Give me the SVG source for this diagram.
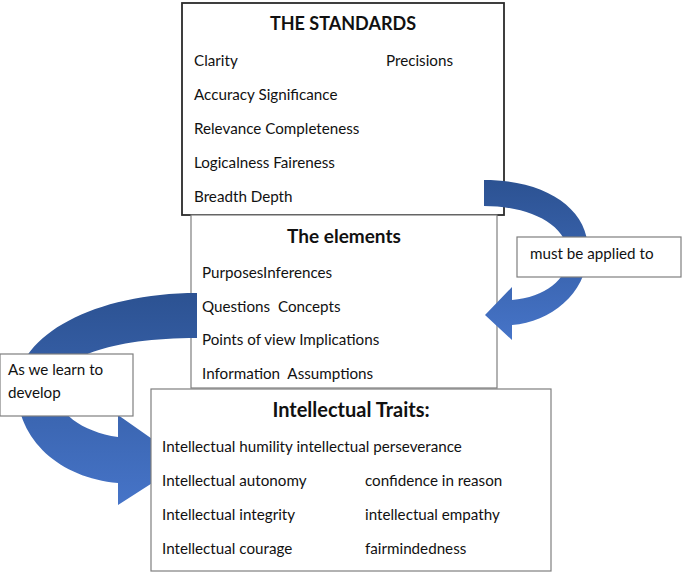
<svg xmlns="http://www.w3.org/2000/svg" width="684" height="575" viewBox="0 0 684 575">
<style>
text{font-family:Lato,"Liberation Sans",sans-serif;font-size:15.2px;fill:#111;white-space:pre}
.t{font-weight:bold;font-size:18px;text-anchor:middle}
.box{fill:#fff;stroke:#7f7f7f;stroke-width:1.2}
.dark{fill:#fff;stroke:#2b2b2b;stroke-width:1.8}
</style>
<defs>
<linearGradient id="gr" x1="0" y1="0" x2="0" y2="1">
<stop offset="0" stop-color="#2c5292"/><stop offset="1" stop-color="#4674c8"/>
</linearGradient>
<linearGradient id="gl" x1="0" y1="0" x2="0" y2="1">
<stop offset="0" stop-color="#2c5292"/><stop offset="1" stop-color="#4674c8"/>
</linearGradient>
</defs>
<g id="standards">
<rect class="dark" x="182" y="3" width="322" height="212"/>
<text class="t" x="343" y="30">THE STANDARDS</text>
<text x="194" y="66">Clarity</text>
<text x="386" y="66">Precisions</text>
<text x="194" y="100">Accuracy Significance</text>
<text x="194" y="134">Relevance Completeness</text>
<text x="194" y="168">Logicalness Faireness</text>
<text x="194" y="202">Breadth Depth</text>
</g>
<g id="elements">
<rect class="box" x="191" y="215" width="306" height="173"/>
<text class="t" x="344" y="243" style="font-size:19px">The elements</text>
<text x="202" y="278">PurposesInferences</text>
<text x="202" y="312">Questions  Concepts</text>
<text x="202" y="345">Points of view Implications</text>
<text x="202" y="379">Information  Assumptions</text>
</g>
<g id="connectors">
<path fill="url(#gr)" d="M 484 180 C 545 180 588 208 588 250 C 588 292 552 322 512 325 L 512 340 L 485 315 L 512 287 L 512 300 C 545 297 568 280 568 255 C 568 225 530 206 484 206 Z"/>
<path fill="url(#gl)" d="M 197 293 C 95 293 17 335 17 388 C 17 440 60 478 118 483 L 118 505 L 185 462 L 118 415 L 118 437 C 82 432 55 412 55 388 C 55 358 110 338 197 338 Z"/>
</g>
<g id="traits">
<rect class="box" x="151" y="389" width="400" height="182"/>
<text class="t" x="351" y="417" style="font-size:20px">Intellectual Traits:</text>
<text x="162" y="452">Intellectual humility intellectual perseverance</text>
<text x="162" y="486">Intellectual autonomy</text>
<text x="365" y="486">confidence in reason</text>
<text x="162" y="520">Intellectual integrity</text>
<text x="365" y="520">intellectual empathy</text>
<text x="162" y="554">Intellectual courage</text>
<text x="365" y="554">fairmindedness</text>
</g>
<g id="label-applied">
<rect class="box" x="517" y="237" width="164" height="40"/>
<text x="530" y="259">must be applied to</text>
</g>
<g id="label-develop">
<rect class="box" x="0" y="354" width="133" height="62"/>
<text x="8" y="375">As we learn to</text>
<text x="8" y="398">develop</text>
</g>
</svg>
